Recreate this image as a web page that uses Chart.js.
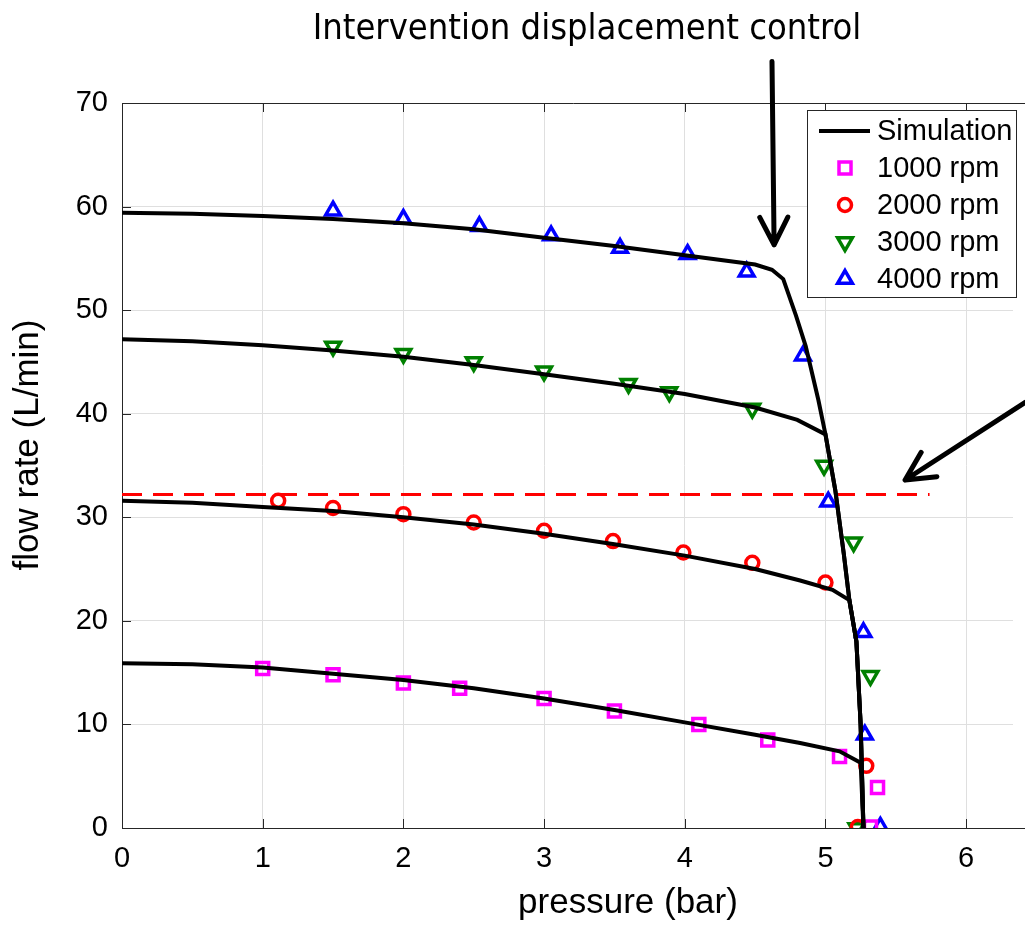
<!DOCTYPE html>
<html lang="en">
<head>
<meta charset="UTF-8" />
<title>Flow rate vs pressure</title>
<script src="https://cdn.jsdelivr.net/npm/chart.js"></script>
<style>
  html, body { margin:0; padding:0; background:#fff; overflow:hidden; }
  #wrap { width:1025px; height:925px; position:relative; }
</style>
</head>
<body>
<div id="wrap"><canvas id="chart" width="1025" height="925"></canvas></div>
<script>
// Simulation curves (pressure in bar, flow rate in L/min)
const sim4000X = [0, 0.5, 1, 1.5, 2, 2.5, 3, 3.5, 4, 4.5, 4.62, 4.7, 4.79, 4.86, 4.95, 5.0, 5.07, 5.13, 5.17, 5.22, 5.25, 5.27];
const sim4000Y = [59.4, 59.3, 59.1, 58.8, 58.4, 57.8, 57.0, 56.2, 55.3, 54.4, 53.9, 53.0, 49.5, 46.5, 41.3, 38.0, 32.6, 26.5, 22.0, 18.0, 10.0, 0];
const sim3000X = [0, 0.5, 1, 1.5, 2, 2.5, 3, 3.5, 4, 4.5, 4.8, 5.0, 5.07, 5.13, 5.17, 5.22, 5.25, 5.27];
const sim3000Y = [47.2, 47.0, 46.6, 46.1, 45.5, 44.7, 43.8, 42.9, 41.9, 40.6, 39.4, 38.0, 32.6, 26.5, 22.0, 18.0, 10.0, 0];
const sim2000X = [0, 0.5, 1, 1.5, 2, 2.5, 3, 3.5, 4, 4.5, 4.82, 5.05, 5.17, 5.22, 5.25, 5.27];
const sim2000Y = [31.6, 31.4, 31.0, 30.6, 30.0, 29.3, 28.4, 27.4, 26.3, 25.0, 23.9, 23.0, 22.0, 18.0, 10.0, 0];
const sim1000X = [0, 0.5, 1, 1.5, 2, 2.5, 3, 3.5, 4, 4.5, 4.82, 5.1, 5.25, 5.27];
const sim1000Y = [15.9, 15.8, 15.5, 14.9, 14.3, 13.5, 12.5, 11.4, 10.2, 9.0, 8.2, 7.4, 6.3, 0];

// Measurements
const m1000X = [1.0, 1.5, 2.0, 2.4, 3.0, 3.5, 4.1, 4.59, 5.1, 5.37, 5.32];
const m1000Y = [15.4, 14.8, 14.0, 13.5, 12.5, 11.3, 10.0, 8.5, 6.9, 3.9, 0.1];
const m2000X = [1.11, 1.5, 2.0, 2.5, 3.0, 3.49, 3.99, 4.48, 5.0, 5.29, 5.23];
const m2000Y = [31.6, 30.9, 30.3, 29.5, 28.7, 27.7, 26.6, 25.6, 23.7, 6.0, 0.1];
const m3000X = [1.5, 2.0, 2.5, 3.0, 3.6, 3.89, 4.48, 4.99, 5.2, 5.32, 5.22];
const m3000Y = [46.5, 45.8, 45.0, 44.1, 42.9, 42.1, 40.5, 35.0, 27.6, 14.7, 0.0];
const m4000X = [1.5, 2.0, 2.54, 3.05, 3.54, 4.02, 4.44, 4.84, 5.02, 5.27, 5.28, 5.39];
const m4000Y = [59.6, 58.8, 58.1, 57.2, 56.0, 55.4, 53.7, 45.6, 31.5, 18.9, 9.0, 0.1];

// Limit line and axes
const limitX = [0, 5.74];
const limitY = [32.2, 32.2];
const xTicks = [0, 1, 2, 3, 4, 5, 6];
const yTicks = [0, 10, 20, 30, 40, 50, 60, 70];
const legendLabels = ['Simulation', '1000 rpm', '2000 rpm', '3000 rpm', '4000 rpm'];
const titleText = 'Intervention displacement control';
const xTitle = 'pressure (bar)';
const yTitle = 'flow rate (L/min)';

const pts = (xs, ys) => xs.map((x, i) => ({x: x, y: ys[i]}));
const FONT = "'Liberation Sans', Arial, Helvetica, sans-serif";

const simStyle = {borderColor:'#000', borderWidth:4, pointRadius:0, tension:0, fill:false, order:0};
const mk = (label, data, color, style, rot, r) => ({
  label, data, showLine:false, borderColor:color, backgroundColor:'transparent',
  pointStyle:style, pointRotation:rot, pointRadius:r, pointBorderWidth:3.5,
  pointBackgroundColor:'transparent', pointBorderColor:color, order:1
});

const datasets = [
  {label:'Simulation', data:pts(sim4000X, sim4000Y), ...simStyle},
  {label:'sim3000', data:pts(sim3000X, sim3000Y), ...simStyle},
  {label:'sim2000', data:pts(sim2000X, sim2000Y), ...simStyle},
  {label:'sim1000', data:pts(sim1000X, sim1000Y), ...simStyle},
  mk('1000 rpm', pts(m1000X, m1000Y), '#ff00ff', 'rect', 0, 8.5),
  mk('2000 rpm', pts(m2000X, m2000Y), '#ff0000', 'circle', 0, 6.5),
  mk('3000 rpm', pts(m3000X, m3000Y), '#008000', 'triangle', 180, 8.5),
  mk('4000 rpm', pts(m4000X, m4000Y), '#0000ff', 'triangle', 0, 8.5),
  {label:'limit', data:pts(limitX, limitY), borderColor:'#ff0000', borderWidth:3,
   borderDash:[20, 11], pointRadius:0, fill:false, order:2}
];

function drawMarker(ctx, style, rot, r, x, y) {
  ctx.beginPath();
  if (style === 'rect') {
    const s = Math.SQRT1_2 * r;
    ctx.rect(x - s, y - s, 2 * s, 2 * s);
  } else if (style === 'circle') {
    ctx.arc(x, y, r, 0, Math.PI * 2);
  } else {
    const a0 = rot * Math.PI / 180;
    for (let k = 0; k < 3; k++) {
      const a = a0 + k * 2 * Math.PI / 3;
      const px = x + Math.sin(a) * r, py = y - Math.cos(a) * r;
      k === 0 ? ctx.moveTo(px, py) : ctx.lineTo(px, py);
    }
    ctx.closePath();
  }
  ctx.stroke();
}

function arrow(ctx, x1, y1, x2, y2, head) {
  const ang = Math.atan2(y2 - y1, x2 - x1);
  ctx.beginPath();
  ctx.moveTo(x1, y1); ctx.lineTo(x2, y2);
  ctx.moveTo(x2 - head * Math.cos(ang - 0.47), y2 - head * Math.sin(ang - 0.47));
  ctx.lineTo(x2, y2);
  ctx.lineTo(x2 - head * Math.cos(ang + 0.47), y2 - head * Math.sin(ang + 0.47));
  ctx.stroke();
}

const extras = {
  id: 'extras',
  afterDraw(chart) {
    const ctx = chart.ctx, a = chart.chartArea;
    const xs = chart.scales.x, ys = chart.scales.y;
    const W = chart.width;
    ctx.save();
    // frame (box runs past the right edge) + inward ticks
    ctx.strokeStyle = '#262626'; ctx.lineWidth = 1;
    ctx.beginPath();
    ctx.moveTo(a.left, a.top + 0.5); ctx.lineTo(W, a.top + 0.5);
    ctx.moveTo(a.right - 1, a.bottom + 0.5); ctx.lineTo(W, a.bottom + 0.5);
    xTicks.forEach(v => {
      const p = Math.round(xs.getPixelForValue(v)) + 0.5;
      ctx.moveTo(p, a.bottom); ctx.lineTo(p, a.bottom - 9);
      ctx.moveTo(p, a.top); ctx.lineTo(p, a.top + 9);
    });
    yTicks.forEach(v => {
      const p = Math.round(ys.getPixelForValue(v)) + 0.5;
      ctx.moveTo(a.left, p); ctx.lineTo(a.left + 9, p);
    });
    ctx.stroke();

    // axis titles
    ctx.fillStyle = '#000';
    ctx.font = '35px ' + FONT;
    ctx.textAlign = 'center';
    ctx.textBaseline = 'alphabetic';
    ctx.fillText(xTitle, 628, 913);
    ctx.save();
    ctx.translate(38, 445);
    ctx.rotate(-Math.PI / 2);
    ctx.fillText(yTitle, 0, 0);
    ctx.restore();

    // legend box
    const lx = 807, ly = 110, lw = 209, lh = 187;
    ctx.fillStyle = '#fff';
    ctx.fillRect(lx, ly, lw, lh);
    ctx.strokeStyle = '#262626'; ctx.lineWidth = 1;
    ctx.strokeRect(lx + 0.5, ly + 0.5, lw, lh);
    ctx.font = '29px ' + FONT;
    ctx.textAlign = 'left';
    ctx.textBaseline = 'middle';
    ctx.fillStyle = '#000';
    const rows = [131, 168, 205, 242, 279];
    ctx.strokeStyle = '#000'; ctx.lineWidth = 4;
    ctx.beginPath(); ctx.moveTo(819, rows[0]); ctx.lineTo(870, rows[0]); ctx.stroke();
    const mks = datasets.slice(4, 8);
    mks.forEach((d, i) => {
      ctx.strokeStyle = d.pointBorderColor; ctx.lineWidth = d.pointBorderWidth;
      drawMarker(ctx, d.pointStyle, d.pointRotation, d.pointRadius, 845, rows[i + 1]);
    });
    legendLabels.forEach((t, i) => ctx.fillText(t, 877, rows[i] + 1));

    // arrows
    ctx.strokeStyle = '#000'; ctx.lineWidth = 5; ctx.lineCap = 'round'; ctx.lineJoin = 'round';
    arrow(ctx, xs.getPixelForValue(4.62), ys.getPixelForValue(74), xs.getPixelForValue(4.635), ys.getPixelForValue(56.3), 31);
    arrow(ctx, xs.getPixelForValue(6.42), ys.getPixelForValue(41.1), xs.getPixelForValue(5.566), ys.getPixelForValue(33.6), 32);

    // annotation title
    ctx.fillStyle = '#000';
    ctx.textBaseline = 'alphabetic';
    ctx.textAlign = 'center';
    let size = 33;
    ctx.font = size + "px 'DejaVu Sans Condensed', 'Liberation Sans Narrow', sans-serif";
    const w = ctx.measureText(titleText).width;
    size = size * 549 / w;
    ctx.font = size.toFixed(1) + "px 'DejaVu Sans Condensed', 'Liberation Sans Narrow', sans-serif";
    ctx.fillText(titleText, 587, 39);
    ctx.restore();
  }
};

new Chart(document.getElementById('chart'), {
  type: 'line',
  data: {datasets},
  options: {
    responsive: false,
    animation: false,
    devicePixelRatio: 1,
    layout: {padding: {top: 103, right: 0, left: 0, bottom: 0}},
    plugins: {legend: {display: false}, tooltip: {enabled: false}},
    scales: {
      x: {
        type: 'linear', min: 0, max: 6.333,
        afterBuildTicks: s => { s.ticks = xTicks.map(v => ({value: v})); },
        afterFit: s => { s.height = 97; },
        grid: {color: '#dfdfdf', drawTicks: false},
        border: {display: true, color: '#262626', width: 1},
        ticks: {color: '#000', font: {family: FONT, size: 29}, padding: 14, maxRotation: 0}
      },
      y: {
        type: 'linear', min: 0, max: 70,
        afterBuildTicks: s => { s.ticks = yTicks.map(v => ({value: v})); },
        afterFit: s => { s.width = 122; },
        grid: {color: '#dfdfdf', drawTicks: false},
        border: {display: true, color: '#262626', width: 1},
        ticks: {color: '#000', font: {family: FONT, size: 29}, padding: 14}
      }
    }
  },
  plugins: [extras]
});
</script>
</body>
</html>
